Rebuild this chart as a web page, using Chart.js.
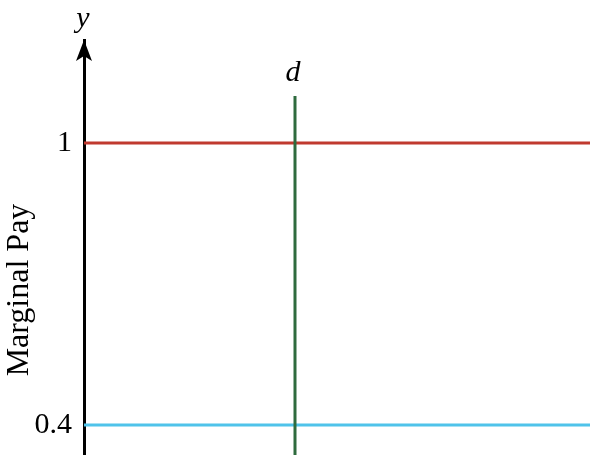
<!DOCTYPE html>
<html>
<head>
<meta charset="utf-8">
<script src="https://cdn.jsdelivr.net/npm/chart.js@4"></script>
<style>
  html, body { margin: 0; padding: 0; background: #fff; }
  #wrap { width: 590px; height: 455px; }
</style>
</head>
<body>
<div id="wrap"><canvas id="chart" width="590" height="455"></canvas></div>
<script>
// axis ranges
const xRange = [0, 10];
const yRange = [0.336, 1.219];
const yTicks = [0.4, 1];

// horizontal pay lines
const upperPay = 1;
const lowerPay = 0.4;

// vertical line at d
const dX = 4.17;
const dTop = 1.1;

const serif = '"Liberation Serif", "Times New Roman", serif';

const labelsPlugin = {
    id: 'labels',
    afterDraw(chart) {
        const ctx = chart.ctx;
        const xs = chart.scales.x, ys = chart.scales.y;
        const axisX = xs.left;
        const top = chart.chartArea.top;
        ctx.save();
        // arrow head on y axis
        ctx.fillStyle = '#000';
        ctx.beginPath();
        ctx.moveTo(axisX, top);
        ctx.lineTo(axisX - 8, top + 21);
        ctx.lineTo(axisX, top + 16);
        ctx.lineTo(axisX + 8, top + 21);
        ctx.closePath();
        ctx.fill();
        // axis and line names
        ctx.font = 'italic 30px ' + serif;
        ctx.textAlign = 'center';
        ctx.textBaseline = 'alphabetic';
        ctx.fillText('y', axisX - 1, top - 13);
        ctx.fillText('d', xs.getPixelForValue(dX) - 2, ys.getPixelForValue(dTop) - 15);
        // y axis title, sits a bit below the middle
        ctx.font = '32px ' + serif;
        ctx.translate(28, 290);
        ctx.rotate(-Math.PI / 2);
        ctx.fillText('Marginal Pay', 0, 0);
        ctx.restore();
    }
};

function draw() {
    new Chart(document.getElementById('chart'), {
        type: 'line',
        data: {
            datasets: [
                {
                    data: [{x: dX, y: yRange[0]}, {x: dX, y: dTop}],
                    borderColor: '#2E6B3E',
                    borderWidth: 3,
                    pointRadius: 0,
                    clip: false
                },
                {
                    data: [{x: xRange[0], y: lowerPay}, {x: xRange[1], y: lowerPay}],
                    borderColor: '#4FC3EA',
                    borderWidth: 3,
                    pointRadius: 0,
                    clip: false
                },
                {
                    data: [{x: xRange[0], y: upperPay}, {x: xRange[1], y: upperPay}],
                    borderColor: '#C0392E',
                    borderWidth: 3,
                    pointRadius: 0,
                    clip: false
                }
            ]
        },
        options: {
            responsive: false,
            animation: false,
            layout: { padding: { top: 40, right: 0, bottom: 0, left: 0 } },
            plugins: { legend: { display: false }, tooltip: { enabled: false } },
            scales: {
                x: {
                    type: 'linear',
                    min: xRange[0],
                    max: xRange[1],
                    display: false
                },
                y: {
                    type: 'linear',
                    min: yRange[0],
                    max: yRange[1],
                    afterBuildTicks: scale => { scale.ticks = yTicks.map(v => ({value: v})); },
                    afterFit: scale => {
                        scale.width = 84;
                        scale.paddingTop = 0;
                        scale.paddingBottom = 0;
                    },
                    grid: { display: false, drawTicks: false },
                    border: { display: true, color: '#000', width: 3 },
                    ticks: {
                        color: '#000',
                        padding: 12,
                        font: { family: serif, size: 30 },
                        callback: v => String(v)
                    },
                    title: { display: false }
                }
            }
        },
        plugins: [labelsPlugin]
    });
}

Promise.all([
    document.fonts.load('30px "Liberation Serif"'),
    document.fonts.load('italic 30px "Liberation Serif"')
]).then(draw, draw);
</script>
</body>
</html>
